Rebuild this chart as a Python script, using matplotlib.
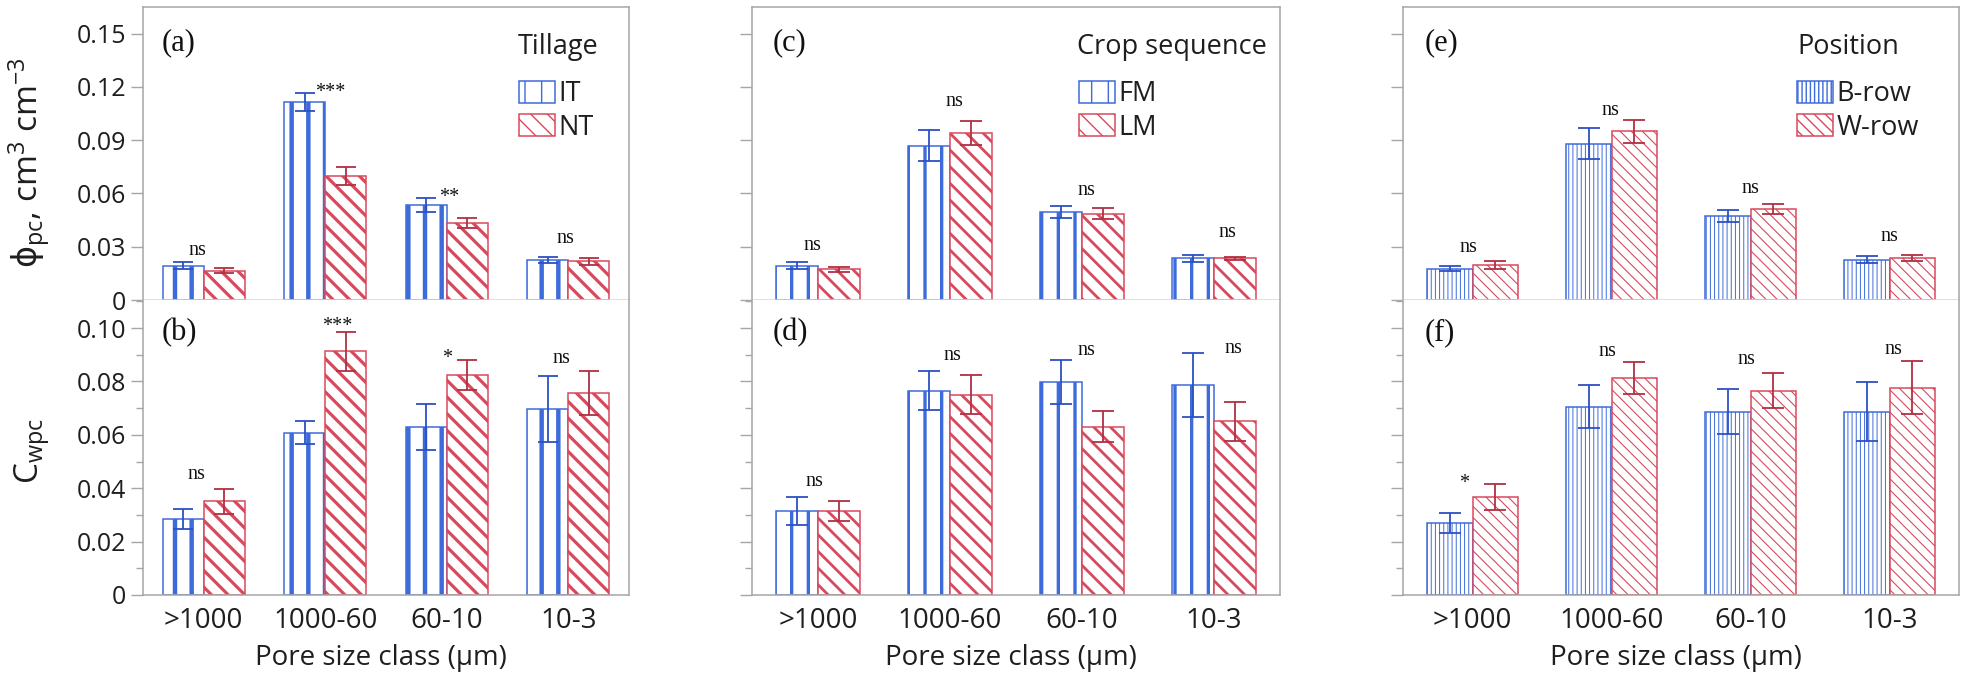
import numpy as np
import matplotlib
matplotlib.use('Agg')
import matplotlib.pyplot as plt
from matplotlib.patches import Patch
from matplotlib.ticker import MultipleLocator, FixedLocator

plt.rcParams['font.family'] = ['Open Sans', 'DejaVu Sans']
plt.rcParams['mathtext.fontset'] = 'dejavusans'

# ---- data ----
classes = ['>1000', '1000-60', '60-10', '10-3']

# (a) / (b) tillage
it_phi = [0.0193, 0.1114, 0.0536, 0.0227]
it_phi_se = [0.0019, 0.0051, 0.0040, 0.0017]
nt_phi = [0.0165, 0.0699, 0.0434, 0.0218]
nt_phi_se = [0.0015, 0.0050, 0.0030, 0.0020]
it_c = [0.0285, 0.0608, 0.0629, 0.0697]
it_c_se = [0.0037, 0.0043, 0.0085, 0.0125]
nt_c = [0.0351, 0.0913, 0.0825, 0.0757]
nt_c_se = [0.0047, 0.0074, 0.0057, 0.0082]

# (c) / (d) crop sequence
fm_phi = [0.0193, 0.0870, 0.0497, 0.0234]
fm_phi_se = [0.0020, 0.0085, 0.0035, 0.0020]
lm_phi = [0.0173, 0.0941, 0.0486, 0.0234]
lm_phi_se = [0.0015, 0.0067, 0.0030, 0.0010]
fm_c = [0.0315, 0.0766, 0.0798, 0.0785]
fm_c_se = [0.0051, 0.0073, 0.0084, 0.0120]
lm_c = [0.0315, 0.0751, 0.0630, 0.0650]
lm_c_se = [0.0037, 0.0074, 0.0058, 0.0074]

# (e) / (f) position
brow_phi = [0.0177, 0.0880, 0.0472, 0.0226]
brow_phi_se = [0.0015, 0.0087, 0.0035, 0.0020]
wrow_phi = [0.0197, 0.0949, 0.0511, 0.0237]
wrow_phi_se = [0.0020, 0.0067, 0.0027, 0.0017]
brow_c = [0.0270, 0.0706, 0.0687, 0.0687]
brow_c_se = [0.0037, 0.0082, 0.0085, 0.0112]
wrow_c = [0.0367, 0.0812, 0.0765, 0.0777]
wrow_c_se = [0.0047, 0.0060, 0.0065, 0.0098]

# significance marks
sig_a = ['ns', '***', '**', 'ns']
sig_b = ['ns', '***', '*', 'ns']
sig_c = ['ns', 'ns', 'ns', 'ns']
sig_d = ['ns', 'ns', 'ns', 'ns']
sig_e = ['ns', 'ns', 'ns', 'ns']
sig_f = ['*', 'ns', 'ns', 'ns']

# where each mark sits (x shift from group centre, baseline height)
sig_a_dx = [-0.05, 0.04, 0.02, -0.02]
sig_a_y = [0.0253, 0.1142, 0.0551, 0.0320]
sig_b_dx = [-0.06, 0.10, 0.0, -0.06]
sig_b_y = [0.0436, 0.0988, 0.0869, 0.0869]
sig_c_dx = [-0.04, 0.03, 0.03, 0.10]
sig_c_y = [0.0281, 0.1091, 0.0594, 0.0353]
sig_d_dx = [-0.03, 0.02, 0.03, 0.15]
sig_d_y = [0.0410, 0.0879, 0.0899, 0.0907]
sig_e_dx = [-0.03, -0.01, 0.0, 0.0]
sig_e_y = [0.0268, 0.1040, 0.0600, 0.0334]
sig_f_dx = [-0.06, -0.03, -0.03, 0.03]
sig_f_y = [0.0400, 0.0895, 0.0864, 0.0902]

top_ticks = [0, 0.03, 0.06, 0.09, 0.12, 0.15]
top_ticklabels = ['0', '0.03', '0.06', '0.09', '0.12', '0.15']
bot_ticks = [0, 0.02, 0.04, 0.06, 0.08, 0.10]
bot_ticklabels = ['0', '0.02', '0.04', '0.06', '0.08', '0.10']

BLUE = '#3E6BDB'
RED = '#D8495E'
BLUE_D = '#2C50C2'
RED_D = '#B03042'
FRAME = '#a6a6a6'
TXT = '#1e1e1e'

W, H = 1961, 675
fig = plt.figure(figsize=(W / 100, H / 100), dpi=100)

# columns: left px, width px
cols = [(143, 486), (752, 528), (1403, 556)]
styles = [
    dict(width=0.337, h1='|', h2='\\\\', lw1=3.2, lw2=2.3, cap=7),
    dict(width=0.32, h1='|', h2='\\\\', lw1=2.4, lw2=2.0, cap=8),
    dict(width=0.33, h1='||||', h2='\\\\\\', lw1=0.7, lw2=0.8, cap=8),
]
legend_info = [
    ('Tillage', ['IT', 'NT'], 0.772, 0.774),
    ('Crop sequence', ['FM', 'LM'], 0.616, 0.619),
    ('Position', ['B-row', 'W-row'], 0.709, 0.709),
]
panel_data = [
    ((it_phi, it_phi_se, nt_phi, nt_phi_se, sig_a, sig_a_dx, sig_a_y, '(a)'),
     (it_c, it_c_se, nt_c, nt_c_se, sig_b, sig_b_dx, sig_b_y, '(b)')),
    ((fm_phi, fm_phi_se, lm_phi, lm_phi_se, sig_c, sig_c_dx, sig_c_y, '(c)'),
     (fm_c, fm_c_se, lm_c, lm_c_se, sig_d, sig_d_dx, sig_d_y, '(d)')),
    ((brow_phi, brow_phi_se, wrow_phi, wrow_phi_se, sig_e, sig_e_dx, sig_e_y, '(e)'),
     (brow_c, brow_c_se, wrow_c, wrow_c_se, sig_f, sig_f_dx, sig_f_y, '(f)')),
]


def draw_bars(ax, d, sty):
    v1, e1, v2, e2, sig, sdx, sy, lab = d
    x = np.arange(len(classes))
    w = sty['width']
    ax.bar(x - w / 2, v1, w, color='white', edgecolor=BLUE, hatch=sty['h1'],
           linewidth=1.1, hatch_linewidth=sty['lw1'], zorder=2)
    ax.bar(x + w / 2, v2, w, color='white', edgecolor=RED, hatch=sty['h2'],
           linewidth=1.1, hatch_linewidth=sty['lw2'], zorder=2)
    ax.errorbar(x - w / 2, v1, yerr=e1, fmt='none', ecolor=BLUE_D, elinewidth=1.3,
                capsize=sty['cap'], capthick=1.3, zorder=3)
    ax.errorbar(x + w / 2, v2, yerr=e2, fmt='none', ecolor=RED_D, elinewidth=1.3,
                capsize=sty['cap'], capthick=1.3, zorder=3)
    for i, t in enumerate(sig):
        ax.text(x[i] + sdx[i], sy[i], t, ha='center', va='baseline', fontsize=14.5,
                family='Liberation Serif', color='#111', zorder=4)
    ax.set_xlim(-0.5, len(classes) - 0.5)


for ci, (left, width) in enumerate(cols):
    sty = styles[ci]
    ax_t = fig.add_axes([left / W, 1 - 300 / H, width / W, 293 / H])
    ax_b = fig.add_axes([left / W, 1 - 595 / H, width / W, 295 / H])
    d_top, d_bot = panel_data[ci]

    draw_bars(ax_t, d_top, sty)
    draw_bars(ax_b, d_bot, sty)

    ax_t.set_ylim(0, 0.165)
    ax_b.set_ylim(0, 0.1105)

    # frame styling
    for sp in ['top', 'left', 'right']:
        ax_t.spines[sp].set_color(FRAME)
        ax_t.spines[sp].set_linewidth(1.1)
    ax_t.spines['bottom'].set_color('#d6d6d6')
    ax_t.spines['bottom'].set_linewidth(1.1)
    ax_b.spines['top'].set_visible(False)
    for sp in ['bottom', 'left', 'right']:
        ax_b.spines[sp].set_color(FRAME)
        ax_b.spines[sp].set_linewidth(1.1)

    ax_t.set_xticks([])
    ax_t.yaxis.set_major_locator(FixedLocator(top_ticks))
    ax_b.yaxis.set_major_locator(FixedLocator(bot_ticks))
    ax_b.yaxis.set_minor_locator(MultipleLocator(0.01))
    for ax in (ax_t, ax_b):
        ax.tick_params(axis='y', which='major', direction='out', length=9, width=1.0,
                       color=FRAME, labelsize=18, labelcolor=TXT, pad=3)
        ax.tick_params(axis='y', which='minor', direction='out', length=5, width=1.0,
                       color=FRAME)
    if ci == 0:
        ax_t.set_yticklabels(top_ticklabels)
        ax_b.set_yticklabels(bot_ticklabels)
        ax_t.set_ylabel(r'$\mathrm{\phi}\mathregular{_{pc}}$, cm$\mathregular{^{3}}$ cm$\mathregular{^{-3}}$',
                        fontsize=24, color=TXT)
        ax_t.yaxis.set_label_coords(-0.187, 0.47)
        ax_b.set_ylabel(r'C$\mathregular{_{wpc}}$', fontsize=24, color=TXT)
        ax_b.yaxis.set_label_coords(-0.187, 0.49)
    else:
        ax_t.set_yticklabels([])
        ax_b.set_yticklabels([])

    ax_b.set_xticks(np.arange(len(classes)))
    ax_b.set_xticklabels(classes)
    ax_b.tick_params(axis='x', length=0, labelsize=20, labelcolor=TXT, pad=9)
    ax_b.set_xlabel('Pore size class (µm)', fontsize=20, color=TXT)
    ax_b.xaxis.set_label_coords(0.49, -0.165)

    # panel letters
    ax_t.text(0.039, 0.877, d_top[7], transform=ax_t.transAxes, ha='left', va='center',
              fontsize=22, family='Liberation Serif', color='#111')
    ax_b.text(0.039, 0.89, d_bot[7], transform=ax_b.transAxes, ha='left', va='center',
              fontsize=22, family='Liberation Serif', color='#111')

    # legend
    title, labels, tx, lx = legend_info[ci]
    ax_t.text(tx, 0.864, title, transform=ax_t.transAxes, ha='left', va='center',
              fontsize=19.5, color=TXT)
    handles = [
        Patch(facecolor='white', edgecolor=BLUE, hatch=sty['h1'], linewidth=1.1,
              hatch_linewidth=sty['lw1'], label=labels[0]),
        Patch(facecolor='white', edgecolor=RED, hatch=sty['h2'], linewidth=1.1,
              hatch_linewidth=sty['lw2'], label=labels[1]),
    ]
    leg = ax_t.legend(handles=handles, loc='upper left', bbox_to_anchor=(lx, 0.75),
                      frameon=False, fontsize=19.5, handlelength=1.33, handleheight=0.89,
                      handletextpad=0.12, labelspacing=0.2, borderpad=0, borderaxespad=0)
    for t in leg.get_texts():
        t.set_color(TXT)

fig.savefig('out.png', dpi=100)
